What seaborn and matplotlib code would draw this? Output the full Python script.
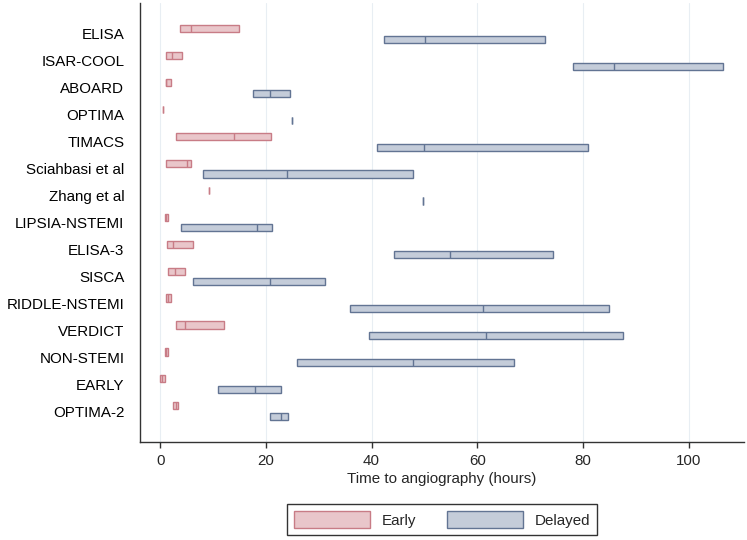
import pandas as pd
import matplotlib.pyplot as plt
import seaborn as sns
from matplotlib.patches import Patch

# Studies, top to bottom
studies = ["ELISA", "ISAR-COOL", "ABOARD", "OPTIMA", "TIMACS", "Sciahbasi et al",
           "Zhang et al", "LIPSIA-NSTEMI", "ELISA-3", "SISCA", "RIDDLE-NSTEMI",
           "VERDICT", "NON-STEMI", "EARLY", "OPTIMA-2"]

# Early arm: 25th percentile, median, 75th percentile (hours)
early_q1 = [3.7, 1.0, 1.0, 0.5, 3.0, 1.0, 9.3, 0.8, 1.2, 1.4, 1.0, 3.0, 0.8, 0.0, 2.5]
early_med = [5.8, 2.3, 1.1, 0.5, 14.0, 5.0, 9.3, 1.0, 2.5, 2.8, 1.5, 4.7, 1.0, 0.3, 2.9]
early_q3 = [14.9, 4.2, 2.0, 0.5, 21.0, 5.9, 9.3, 1.5, 6.1, 4.7, 2.1, 12.1, 1.4, 0.9, 3.4]

# Delayed arm: 25th percentile, median, 75th percentile (hours)
delayed_q1 = [42.3, 78.2, 17.5, 25.0, 41.0, 8.0, 49.8, 4.0, 44.3, 6.1, 35.9, 39.5, 25.9, 11.0, 20.7]
delayed_med = [50.1, 85.9, 20.7, 25.0, 49.9, 23.9, 49.8, 18.3, 54.8, 20.8, 61.0, 61.6, 47.9, 18.0, 22.9]
delayed_q3 = [72.9, 106.6, 24.6, 25.0, 80.9, 47.9, 49.8, 21.1, 74.4, 31.1, 84.9, 87.6, 67.0, 22.9, 24.1]

groups = ["Early", "Delayed"]
fills = {"Early": "#e9c6ca", "Delayed": "#c4ccd9"}
edges = {"Early": "#c87c86", "Delayed": "#627493"}

# Long table: q1, q1, median, q3, q3 gives exactly those quartiles
rows = []
for group, q1s, meds, q3s in [("Early", early_q1, early_med, early_q3),
                              ("Delayed", delayed_q1, delayed_med, delayed_q3)]:
    for s, a, m, b in zip(studies, q1s, meds, q3s):
        for v in (a, a, m, b, b):
            rows.append({"study": s, "group": group, "hours": v})
df = pd.DataFrame(rows)

sns.set_style("ticks")
plt.rcParams["font.family"] = ["Liberation Sans", "DejaVu Sans"]
fs = 10.9

fig, ax = plt.subplots(figsize=(7.47, 5.40), dpi=100)
fig.subplots_adjust(left=0.187, right=0.996, bottom=0.181, top=0.994)

sns.boxplot(data=df, x="hours", y="study", hue="group",
            hue_order=groups, order=studies, orient="h",
            whis=0, showcaps=False, showfliers=False, width=0.8, gap=0.34,
            palette=fills, saturation=1, linecolor=edges["Delayed"], linewidth=1.0,
            legend=False, ax=ax)

# edge colours per arm: early boxes sit above the row centre, delayed below
fill_to_edge = {tuple(round(c, 3) for c in plt.matplotlib.colors.to_rgb(fills[g])): edges[g]
                for g in groups}
for p in ax.patches:
    key = tuple(round(c, 3) for c in p.get_facecolor()[:3])
    if key in fill_to_edge:
        p.set_edgecolor(fill_to_edge[key])
for ln in ax.lines:
    yd = ln.get_ydata()
    if len(yd) == 0:
        continue
    yc = sum(yd) / len(yd)
    ln.set_color(edges["Early"] if yc - round(yc) < 0 else edges["Delayed"])

ax.set_xlim(-3.9, 110.5)
ax.set_ylim(15.15, -1.135)
ax.set_xticks([0, 20, 40, 60, 80, 100])
ax.grid(axis="x", color="#e8eef3", linewidth=0.8)
ax.grid(axis="y", visible=False)
ax.set_axisbelow(True)

ax.set_xlabel("Time to angiography (hours)", fontsize=fs, labelpad=3)
ax.set_ylabel("")
ax.tick_params(axis="y", length=0, pad=11, labelsize=fs, colors="black")
ax.tick_params(axis="x", length=4.3, width=1.0, pad=4, labelsize=fs, color="#333333")

sns.despine(ax=ax)
for side in ["left", "bottom"]:
    ax.spines[side].set_color("#333333")
    ax.spines[side].set_linewidth(1.0)

handles = [Patch(facecolor=fills[g], edgecolor=edges[g], linewidth=1.0, label=g) for g in groups]
leg = fig.legend(handles=handles, ncol=2, loc="center", bbox_to_anchor=(0.592, 0.038),
                 frameon=True, fancybox=False, edgecolor="black", fontsize=fs,
                 handlelength=5.0, handleheight=1.4, handletextpad=0.8,
                 columnspacing=2.0, borderpad=0.45)
leg.get_frame().set_linewidth(1.0)

fig.savefig("out.png", dpi=100)
